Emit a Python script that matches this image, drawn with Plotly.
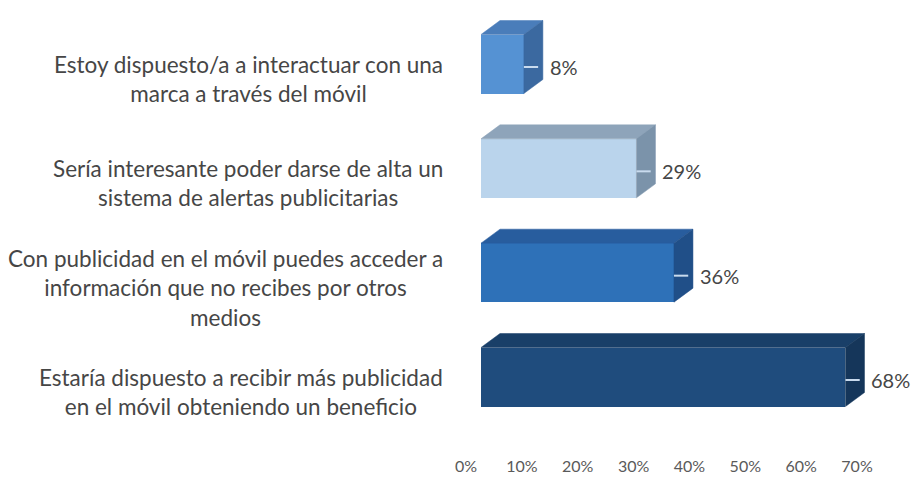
import plotly.graph_objects as go

# ---- data -------------------------------------------------------------
categories = [
    "Estoy dispuesto/a a interactuar con una<br>marca a través del móvil",
    "Sería interesante poder darse de alta un<br>sistema de alertas publicitarias",
    "Con publicidad en el móvil puedes acceder a<br>información que no recibes por otros<br>medios",
    "Estaría dispuesto a recibir más publicidad<br>en el móvil obteniendo un beneficio",
]
values = [8, 29, 36, 68]
value_labels = ["8%", "29%", "36%", "68%"]
tick_values = [0, 10, 20, 30, 40, 50, 60, 70]
tick_labels = ["0%", "10%", "20%", "30%", "40%", "50%", "60%", "70%"]

# ---- styling ----------------------------------------------------------
front_colors = ["#5592d3", "#bad4ec", "#2e71b8", "#1f4c7d"]
top_colors = ["#4a7dba", "#8ea4ba", "#285d9e", "#193f68"]
side_colors = ["#3b69a0", "#7b93aa", "#204f88", "#15365a"]
text_color = "#464646"
font_family = "Lato, 'Open Sans', sans-serif"

W, H = 913, 480
ML, MR, MT, MB = 440, 3, 10, 25
PLOT_W = W - ML - MR
PLOT_H = H - MT - MB

PX_PER_PCT = 5.36        # horizontal scale of the bars
BAR_ZERO_PX = 481        # where 0 % sits for the bars
TICK_PX_PER_PCT = 5.586  # scale of the floor labels (oblique projection)
TICK_ZERO_PX = 466
ROW_PX = 104.33          # distance between bar centres
LAST_ROW_PX = 377        # centre of the lowest bar
BAR_PX = 59              # thickness of the front face
DEPTH_X_PX, DEPTH_Y_PX = 19, 14
LABEL_RIGHT_PX = 445

n = len(values)
ys = [n - 1 - i for i in range(n)]

x_range = [(ML - BAR_ZERO_PX) / PX_PER_PCT, (W - MR - BAR_ZERO_PX) / PX_PER_PCT]
x2_range = [(ML - TICK_ZERO_PX) / TICK_PX_PER_PCT, (W - MR - TICK_ZERO_PX) / TICK_PX_PER_PCT]
y_range = [(LAST_ROW_PX - (H - MB)) / ROW_PX, (LAST_ROW_PX - MT) / ROW_PX]

half = BAR_PX / 2 / ROW_PX
dx = DEPTH_X_PX / PX_PER_PCT
dy = DEPTH_Y_PX / ROW_PX

fig = go.Figure()

# top and side faces of each box
for v, y, tc, sc in zip(values, ys, top_colors, side_colors):
    fig.add_trace(go.Scatter(
        x=[0, v, v + dx, dx, 0],
        y=[y + half, y + half, y + half + dy, y + half + dy, y + half],
        fill="toself", fillcolor=tc, mode="lines",
        line=dict(color=tc, width=0.5), hoverinfo="skip", showlegend=False,
    ))
    fig.add_trace(go.Scatter(
        x=[v, v + dx, v + dx, v, v],
        y=[y - half, y - half + dy, y + half + dy, y + half, y - half],
        fill="toself", fillcolor=sc, mode="lines",
        line=dict(color=sc, width=0.5), hoverinfo="skip", showlegend=False,
    ))

# front faces
fig.add_trace(go.Bar(
    x=values, y=ys, orientation="h", width=2 * half,
    marker=dict(color=front_colors, line=dict(width=0)),
    hoverinfo="skip", showlegend=False,
))

# short leader marks on the side faces
label_dy = -3 / ROW_PX
for v, y in zip(values, ys):
    fig.add_trace(go.Scatter(
        x=[v, v + 0.75 * dx], y=[y + label_dy, y + label_dy],
        mode="lines", line=dict(color="#c9dbee", width=2),
        hoverinfo="skip", showlegend=False,
    ))

# invisible trace that carries the floor axis
fig.add_trace(go.Scatter(x=[0, 70], y=[0, 0], xaxis="x2", mode="markers",
                         marker=dict(opacity=0), hoverinfo="skip", showlegend=False))

annotations = []
for v, y, lab in zip(values, ys, value_labels):
    annotations.append(dict(
        x=v + dx, y=y, xref="x", yref="y", text=lab, showarrow=False,
        xanchor="left", yanchor="middle", xshift=5, yshift=-3,
        font=dict(family=font_family, size=20, color=text_color),
    ))
for y, cat in zip(ys, categories):
    annotations.append(dict(
        x=(LABEL_RIGHT_PX - ML) / PLOT_W, y=y, xref="paper", yref="y",
        text=cat, showarrow=False, xanchor="right", yanchor="middle",
        align="center", yshift=-15,
        font=dict(family=font_family, size=22.5, color=text_color),
    ))

fig.update_layout(
    width=W, height=H,
    margin=dict(l=ML, r=MR, t=MT, b=MB),
    paper_bgcolor="white", plot_bgcolor="white",
    bargap=0,
    xaxis=dict(range=x_range, showgrid=False, zeroline=False, showticklabels=False,
               showline=False, fixedrange=True),
    xaxis2=dict(range=x2_range, overlaying="x", side="bottom", anchor="y",
                tickvals=tick_values, ticktext=tick_labels, showgrid=False,
                zeroline=False, showline=False, ticks="",
                tickfont=dict(family=font_family, size=16, color="#5a5a5a")),
    yaxis=dict(range=y_range, showgrid=False, zeroline=False, showticklabels=False,
               showline=False, fixedrange=True),
    annotations=annotations,
)

fig.write_html("out.html")
